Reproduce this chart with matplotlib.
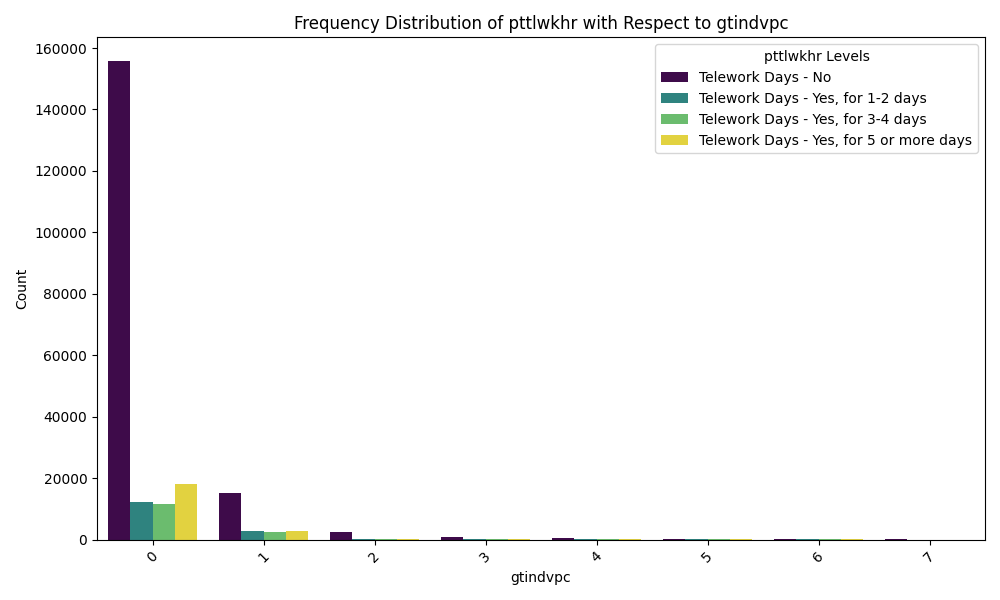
import matplotlib
matplotlib.use("Agg")
import matplotlib.pyplot as plt
import seaborn as sns
import pandas as pd

categories = ["0", "1", "2", "3", "4", "5", "6", "7"]
levels = ["Telework Days - No", "Telework Days - Yes, for 1-2 days",
          "Telework Days - Yes, for 3-4 days", "Telework Days - Yes, for 5 or more days"]
no_vals = [155700, 15200, 2500, 900, 500, 250, 200, 150]
d12_vals = [12300, 2900, 300, 100, 60, 40, 30, 0]
d34_vals = [11700, 2600, 200, 80, 50, 30, 20, 0]
d5_vals = [18000, 2900, 200, 80, 50, 30, 20, 0]

rows = []
for series, lvl in zip([no_vals, d12_vals, d34_vals, d5_vals], levels):
    for c, v in zip(categories, series):
        rows.append({"gtindvpc": c, "level": lvl, "Count": v})
df = pd.DataFrame(rows)

palette = ["#440154", "#21918c", "#5ec962", "#fde725"]
fig, ax = plt.subplots(figsize=(10, 6), dpi=100)
sns.barplot(data=df, x="gtindvpc", y="Count", hue="level", hue_order=levels,
            palette=palette, ax=ax)
ax.set_title("Frequency Distribution of pttlwkhr with Respect to gtindvpc")
ax.set_xlabel("gtindvpc")
ax.set_ylabel("Count")
plt.setp(ax.get_xticklabels(), rotation=45)
ax.legend(title="pttlwkhr Levels", loc="upper right")
plt.tight_layout()
plt.savefig("out.png")
